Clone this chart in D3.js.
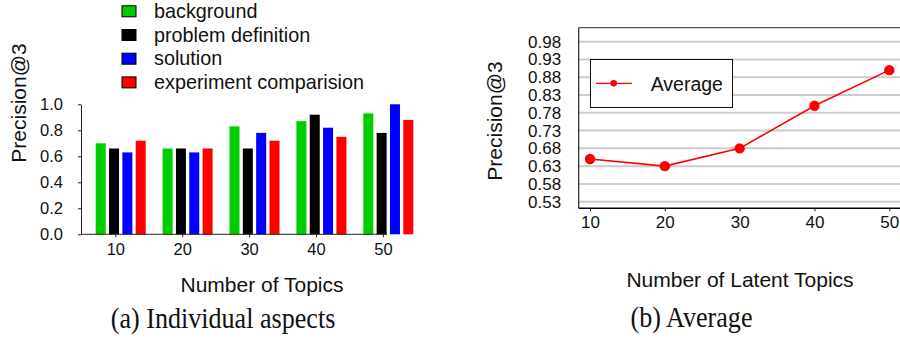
<!DOCTYPE html>
<html>
<head>
<meta charset="utf-8">
<script src="https://cdn.jsdelivr.net/npm/d3@7"></script>
<style>
  html, body { margin: 0; padding: 0; background: #fff; }
  svg { display: block; }
  text { fill: #111; }
</style>
</head>
<body>
<svg id="chart" width="900" height="339"></svg>
<script>
// ---------- data ----------
const topics = [10, 20, 30, 40, 50];
const aspects = ["background", "problem definition", "solution", "experiment comparision"];
const aspectColors = ["#00cd00", "#000000", "#0000ff", "#ff0000"];
const background = [0.70, 0.66, 0.83, 0.87, 0.93];
const problemDefinition = [0.66, 0.66, 0.66, 0.92, 0.78];
const solution = [0.63, 0.63, 0.78, 0.82, 1.00];
const experimentComparision = [0.72, 0.66, 0.72, 0.75, 0.88];
const leftYTicks = [0, 0.2, 0.4, 0.6, 0.8, 1.0];

const averageValues = [0.65, 0.63, 0.68, 0.80, 0.90];
const rightYTicks = [0.53, 0.58, 0.63, 0.68, 0.73, 0.78, 0.83, 0.88, 0.93, 0.98];

const seriesValues = [background, problemDefinition, solution, experimentComparision];

const svg = d3.select("#chart");
const sans = "'Liberation Sans', Arial, Helvetica, sans-serif";
const serif = "'Liberation Serif', 'Times New Roman', serif";

// ================= LEFT CHART =================
const L = { axisX: 81, y0: 234.3, y1: 104.3, barStart: 95.7, barEnd: 413.3, xAxisEnd: 387 };

const yL = d3.scaleLinear().domain([0, 1]).range([L.y0, L.y1]);
const x0 = d3.scaleBand().domain(topics).range([L.barStart, L.barEnd]).paddingInner(0.2526).paddingOuter(0);
const x1 = d3.scaleBand().domain(aspects).range([0, x0.bandwidth()]).paddingInner(0.25).paddingOuter(0);
const tickOffset = 19.6;
const xTickL = d3.scaleLinear().domain([10, 50]).range([x0(10) + tickOffset, x0(50) + tickOffset]);

const gL = svg.append("g");

// bars
topics.forEach((t, i) => {
  aspects.forEach((a, j) => {
    const v = seriesValues[j][i];
    gL.append("rect")
      .attr("x", x0(t) + x1(a))
      .attr("y", yL(v))
      .attr("width", x1.bandwidth())
      .attr("height", yL(0) - yL(v))
      .attr("fill", aspectColors[j]);
  });
});

// y axis
const yAxisL = gL.append("g")
  .attr("transform", `translate(${L.axisX},0)`)
  .call(d3.axisLeft(yL).tickValues(leftYTicks).tickFormat(d3.format(".1f")).tickSize(3).tickSizeOuter(0).tickPadding(15));
yAxisL.selectAll("text").style("font-family", sans).style("font-size", "16.5px").attr("fill", "#111");
yAxisL.selectAll("path, line").attr("stroke", "#222");

// x axis
const xAxisL = gL.append("g")
  .attr("transform", `translate(0,${L.y0})`)
  .call(d3.axisBottom(xTickL).tickValues(topics).tickFormat(d3.format("d")).tickSize(3).tickSizeOuter(0).tickPadding(6));
xAxisL.select(".domain").remove();
xAxisL.selectAll("text").style("font-family", sans).style("font-size", "16.5px").attr("fill", "#111");
xAxisL.selectAll("line").attr("stroke", "#222");
gL.append("line")
  .attr("x1", L.axisX).attr("x2", L.xAxisEnd)
  .attr("y1", L.y0).attr("y2", L.y0)
  .attr("stroke", "#222").attr("stroke-width", 1);

// legend
const legL = gL.append("g");
aspects.forEach((a, j) => {
  const cy = 11.3 + j * 23.7;
  legL.append("rect")
    .attr("x", 122).attr("y", cy - 5.5)
    .attr("width", 14).attr("height", 11)
    .attr("fill", aspectColors[j]).attr("stroke", "#000").attr("stroke-width", 1);
  legL.append("text")
    .attr("x", 154).attr("y", cy).attr("dy", "0.33em")
    .style("font-family", sans).style("font-size", "19.8px")
    .text(a);
});

// titles
gL.append("text")
  .attr("transform", "translate(26,103) rotate(-90)")
  .attr("text-anchor", "middle")
  .style("font-family", sans).style("font-size", "21px")
  .text("Precision@3");
gL.append("text")
  .attr("x", 262).attr("y", 291.5)
  .attr("text-anchor", "middle")
  .style("font-family", sans).style("font-size", "21px")
  .text("Number of Topics");
gL.append("text")
  .attr("transform", "translate(223,328) scale(0.9,1)")
  .attr("text-anchor", "middle")
  .style("font-family", serif).style("font-size", "29px")
  .text("(a) Individual aspects");

// ================= RIGHT CHART =================
const R = { left: 578.7, top: 27.7, bottom: 208.3, right: 910 };
const yR = d3.scaleLinear().domain([0.53, 0.98]).range([201.7, 41.7]);
const xR = d3.scaleLinear().domain([10, 50]).range([590, 889.3]);

const gR = svg.append("g");

// gridlines
gR.append("g").selectAll("line")
  .data(rightYTicks).join("line")
  .attr("x1", R.left).attr("x2", R.right)
  .attr("y1", d => yR(d)).attr("y2", d => yR(d))
  .attr("stroke", "#cccccc").attr("stroke-width", 2);

// frame
gR.append("line").attr("x1", R.left).attr("x2", R.right).attr("y1", R.top).attr("y2", R.top)
  .attr("stroke", "#555").attr("stroke-width", 1.2);
gR.append("line").attr("x1", R.left).attr("x2", R.left).attr("y1", R.top).attr("y2", R.bottom)
  .attr("stroke", "#222").attr("stroke-width", 1.2);
gR.append("line").attr("x1", R.left).attr("x2", R.right).attr("y1", R.bottom).attr("y2", R.bottom)
  .attr("stroke", "#000").attr("stroke-width", 1.5);

// y axis labels
const yAxisR = gR.append("g")
  .attr("transform", `translate(${R.left},0)`)
  .call(d3.axisLeft(yR).tickValues(rightYTicks).tickFormat(d3.format(".2f")).tickSize(0).tickPadding(17.5));
yAxisR.select(".domain").remove();
yAxisR.selectAll("text").style("font-family", sans).style("font-size", "17px").attr("fill", "#111");

// x axis
const xAxisR = gR.append("g")
  .attr("transform", `translate(0,${R.bottom})`)
  .call(d3.axisBottom(xR).tickValues(topics).tickFormat(d3.format("d")).tickSize(3).tickSizeOuter(0).tickPadding(5));
xAxisR.select(".domain").remove();
xAxisR.selectAll("text").style("font-family", sans).style("font-size", "17px").attr("fill", "#111");
xAxisR.selectAll("line").attr("stroke", "#222");

// line + markers
const line = d3.line().x((d, i) => xR(topics[i])).y(d => yR(d));
gR.append("path").datum(averageValues)
  .attr("d", line).attr("fill", "none").attr("stroke", "#ff0000").attr("stroke-width", 1.6);
gR.append("g").selectAll("circle")
  .data(averageValues).join("circle")
  .attr("cx", (d, i) => xR(topics[i])).attr("cy", d => yR(d))
  .attr("r", 5.2).attr("fill", "#ff0000");

// legend
const legR = gR.append("g");
legR.append("rect").attr("x", 590.5).attr("y", 59.5).attr("width", 142).attr("height", 48)
  .attr("fill", "#fff").attr("stroke", "#111").attr("stroke-width", 1);
legR.append("line").attr("x1", 596).attr("x2", 632).attr("y1", 83.3).attr("y2", 83.3)
  .attr("stroke", "#ff0000").attr("stroke-width", 1.2);
legR.append("circle").attr("cx", 613.7).attr("cy", 83.3).attr("r", 3.3).attr("fill", "#ff0000");
legR.append("text").attr("x", 650.7).attr("y", 90.7)
  .style("font-family", sans).style("font-size", "19.5px")
  .text("Average");

// titles
gR.append("text")
  .attr("transform", "translate(502,121) rotate(-90)")
  .attr("text-anchor", "middle")
  .style("font-family", sans).style("font-size", "21px")
  .text("Precision@3");
gR.append("text")
  .attr("x", 740).attr("y", 287.3)
  .attr("text-anchor", "middle")
  .style("font-family", sans).style("font-size", "21px")
  .text("Number of Latent Topics");
gR.append("text")
  .attr("transform", "translate(691.5,327) scale(0.9,1)")
  .attr("text-anchor", "middle")
  .style("font-family", serif).style("font-size", "29px")
  .text("(b) Average");
</script>
</body>
</html>
